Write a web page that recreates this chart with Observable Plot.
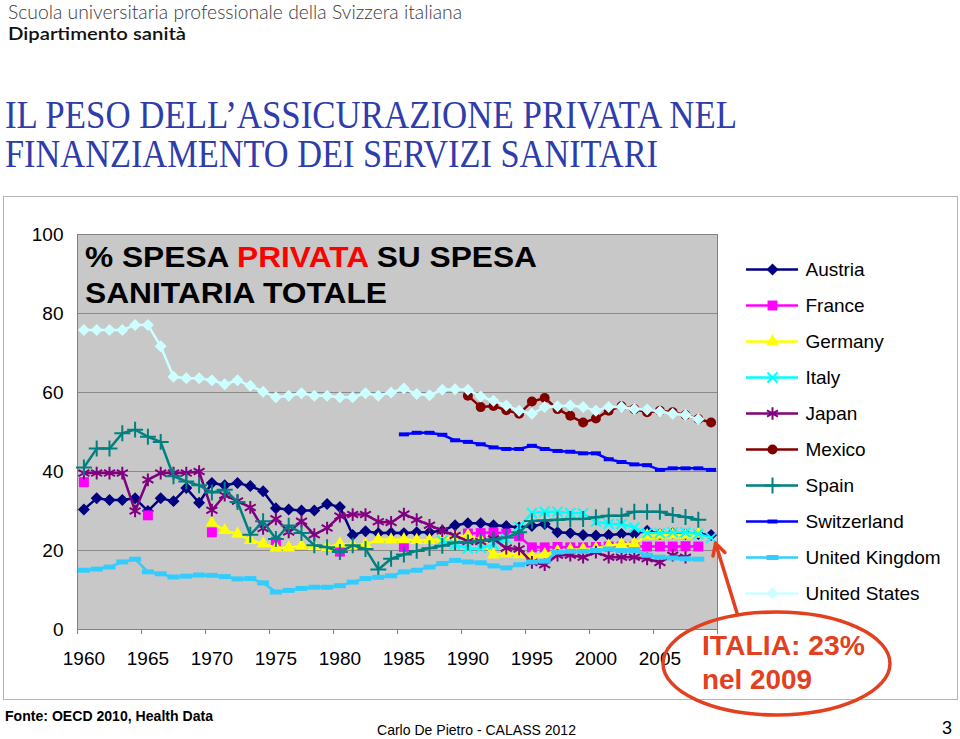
<!DOCTYPE html>
<html>
<head>
<meta charset="utf-8">
<script src="https://cdn.jsdelivr.net/npm/d3@7"></script>
<script src="https://cdn.jsdelivr.net/npm/@observablehq/plot@0.6"></script>
<style>
html, body { margin: 0; padding: 0; background: #fff; }
#page { position: relative; width: 960px; height: 739px; overflow: hidden; font-family: "Liberation Sans", Arial, sans-serif; }
#page > svg { position: absolute; }
</style>
</head>
<body>
<div id="page"></div>
<script>
// ---------- DATA ----------
const years = [1960,1961,1962,1963,1964,1965,1966,1967,1968,1969,
               1970,1971,1972,1973,1974,1975,1976,1977,1978,1979,
               1980,1981,1982,1983,1984,1985,1986,1987,1988,1989,
               1990,1991,1992,1993,1994,1995,1996,1997,1998,1999,
               2000,2001,2002,2003,2004,2005,2006,2007,2008,2009];
const xTickLabels = [1960,1965,1970,1975,1980,1985,1990,1995,2000,2005];
const yTickLabels = [0,20,40,60,80,100];
const countries = ["Austria","France","Germany","Italy","Japan","Mexico","Spain","Switzerland","United Kingdom","United States"];

const austria = [30.4,33.2,32.8,32.8,33.2,30.0,33.2,32.5,35.8,32.1,
                 37.1,36.5,37.1,36.3,35.0,30.7,30.4,30.1,30.1,31.8,
                 31.0,23.9,24.9,24.4,24.5,24.4,24.6,24.6,25.0,26.4,
                 26.9,26.9,26.4,26.2,25.8,26.2,26.7,24.6,24.4,23.9,
                 23.8,23.9,24.2,24.2,25.0,24.2,24.4,24.2,24.2,23.9];
const france = [37.3,null,null,null,null,28.9,null,null,null,null,
                24.6,null,null,null,null,22.2,null,null,null,null,
                19.7,null,null,null,null,20.9,null,null,null,null,
                24.3,24.4,24.6,24.3,23.6,20.8,20.8,20.9,20.8,20.8,
                20.9,21.0,21.0,21.0,21.0,21.0,21.0,21.1,21.0,null];
const germany = [null,null,null,null,null,null,null,null,null,null,
                 27.0,25.1,24.2,22.6,21.7,20.7,20.7,21.2,21.0,20.8,
                 21.7,21.3,21.5,22.8,22.7,22.8,22.6,22.6,22.9,23.5,
                 23.8,22.6,18.9,19.2,19.0,18.5,19.0,19.8,20.2,20.3,
                 20.5,21.2,21.6,21.7,23.8,23.9,24.0,23.9,24.2,null];
const italy = [null,null,null,null,null,null,null,null,null,null,
               null,null,null,null,null,null,null,null,null,null,
               null,null,null,null,null,null,null,null,22.5,21.5,
               20.5,20.6,21.5,23.0,26.0,29.5,29.8,29.8,29.5,29.4,
               27.3,26.7,26.7,25.8,24.4,24.4,24.6,24.6,24.2,23.2];
const japan = [39.6,39.6,39.6,39.6,30.0,37.9,39.6,39.6,39.6,40.0,
               30.2,34.0,32.5,30.9,25.6,28.0,24.7,27.4,24.0,25.7,
               28.7,29.1,29.1,27.3,27.1,29.2,27.8,26.4,25.0,23.8,
               22.3,22.3,22.9,20.6,20.4,17.0,16.4,18.8,18.8,18.3,
               19.6,18.3,18.3,18.3,17.9,17.0,18.8,18.3,null,null];
const mexico = [null,null,null,null,null,null,null,null,null,null,
                null,null,null,null,null,null,null,null,null,null,
                null,null,null,null,null,null,null,null,null,null,
                59.2,56.3,56.6,55.5,54.6,57.7,58.6,55.8,54.1,52.4,
                53.4,55.4,56.5,55.8,55.0,55.4,55.0,54.3,53.3,52.4];
const spain = [41.0,45.8,45.8,49.7,50.6,48.8,47.5,38.8,37.5,36.5,
               34.7,35.4,32.3,24.0,27.4,22.9,26.3,24.4,21.3,20.8,
               19.6,21.3,20.4,15.2,17.9,19.0,19.9,20.6,21.2,22.0,
               22.0,22.5,22.8,23.3,24.6,27.5,27.6,27.8,28.0,28.0,
               28.4,28.8,28.8,29.8,29.8,29.8,29.0,28.5,27.8,null];
const switzerland = [null,null,null,null,null,null,null,null,null,null,
                     null,null,null,null,null,null,null,null,null,null,
                     null,null,null,null,null,49.4,49.8,49.8,49.3,47.9,
                     47.5,46.9,46.1,45.7,45.7,46.5,45.7,45.2,45.0,44.6,
                     44.6,43.1,42.4,41.8,41.6,40.4,40.8,40.8,40.8,40.4];
const unitedKingdom = [15.0,15.3,15.8,17.1,17.8,14.6,14.1,13.3,13.5,13.8,
                       13.7,13.4,12.8,12.9,11.8,9.5,9.9,10.4,10.7,10.7,
                       11.1,12.0,12.9,13.2,13.6,14.6,15.0,15.8,16.7,17.5,
                       17.1,16.9,16.1,15.6,16.4,17.1,17.3,19.6,19.8,19.8,
                       20.0,20.4,20.0,20.0,18.8,18.3,18.1,17.9,17.8,null];
const unitedStates = [75.8,75.8,75.8,75.8,77.1,77.1,71.7,64.0,63.6,63.6,
                      63.1,62.1,63.1,61.7,60.2,58.8,59.2,59.8,59.2,59.2,
                      58.8,58.8,59.8,59.2,60.0,61.0,59.6,59.3,60.7,60.8,
                      60.7,59.0,57.9,56.7,55.4,54.6,56.3,56.5,56.7,56.3,
                      55.4,56.3,56.3,55.8,55.7,55.2,54.6,54.3,53.2,null];
const seriesValues = [austria, france, germany, italy, japan, mexico, spain, switzerland, unitedKingdom, unitedStates];
const highlightCountry = "Italy";
const highlightYear = 2009;

// ---------- STYLES ----------
const dash = (w, h) => ({ draw(ctx) { ctx.moveTo(-w/2,-h/2); ctx.lineTo(w/2,-h/2); ctx.lineTo(w/2,h/2); ctx.lineTo(-w/2,h/2); ctx.closePath(); } });
const styles = [
  {color:"#000080", symbol:"diamond2", r:5.4, filled:true},
  {color:"#ff00ff", symbol:"square",   r:5.6, filled:true},
  {color:"#ffff00", symbol:"triangle", r:4.8, filled:true},
  {color:"#00ffff", symbol:"times",    r:4.6, filled:false},
  {color:"#800080", symbol:"asterisk", r:6.0, filled:false},
  {color:"#800000", symbol:"circle",   r:5.0, filled:true},
  {color:"#008080", symbol:"plus",     r:5.2, filled:false},
  {color:"#0000ff", symbol:dash(10,4), r:3,   filled:true},
  {color:"#33ccff", symbol:dash(12,5), r:3,   filled:true},
  {color:"#ccffff", symbol:"diamond2", r:5.4, filled:true}
];
const FONT = "'Liberation Sans', Arial, sans-serif";

function dotOpts(st) {
  return st.filled
    ? {symbol: st.symbol, r: st.r, fill: st.color, stroke: "none"}
    : {symbol: st.symbol, r: st.r, fill: "none", stroke: st.color, strokeWidth: 2};
}

// ---------- MAIN CHART ----------
const page = document.getElementById("page");
const chartTop = 196;
const xDomain = [years[0] - 0.5, years[years.length - 1] + 0.5];
const tickMarks = d3.range(xDomain[0], xDomain[1] + 1, 5);

const marks = [
  Plot.frame({fill: "#c8c8c8", stroke: "none"}),
  Plot.gridY(yTickLabels.filter(v => v > 0 && v < 100), {stroke: "#8a8a8a", strokeOpacity: 1}),
  Plot.frame({stroke: "#808080", fill: "none"}),
  Plot.axisY(yTickLabels, {tickSize: 0, tickPadding: 14, fontSize: 19, tickFormat: d => String(d), label: null}),
  Plot.axisX(xTickLabels, {tickSize: 0, tickPadding: 22, fontSize: 19, tickFormat: d => String(d), label: null}),
  Plot.axisX(tickMarks, {tickSize: 5, tickFormat: () => "", stroke: "#808080", label: null})
];
countries.forEach((c, k) => {
  const rows = years.map((y, i) => ({year: y, value: seriesValues[k][i] == null ? NaN : seriesValues[k][i]}));
  const st = styles[k];
  marks.push(Plot.line(rows, {x: "year", y: "value", stroke: st.color, strokeWidth: 2.5, strokeLinejoin: "round"}));
  marks.push(Plot.dot(rows.filter(d => !isNaN(d.value)), {x: "year", y: "value", ...dotOpts(st)}));
});

const chart = Plot.plot({
  width: 960, height: 504,
  marginLeft: 77, marginRight: 243, marginTop: 38, marginBottom: 71,
  x: {type: "linear", domain: xDomain, axis: null, label: null},
  y: {type: "linear", domain: [0, 100], axis: null, label: null},
  style: {background: "transparent", fontFamily: FONT, overflow: "visible", color: "#000"},
  marks
});

// background layer (chart box)
const bg = d3.create("svg").attr("width", 960).attr("height", 739).style("left", "0px").style("top", "0px");
bg.append("rect").attr("x", 3.5).attr("y", 196.5).attr("width", 954).attr("height", 503)
  .attr("fill", "#fff").attr("stroke", "#b4b4b4").attr("stroke-width", 1);
page.appendChild(bg.node());

chart.style.left = "0px";
chart.style.top = chartTop + "px";
page.appendChild(chart);

// ---------- LEGEND ----------
const legendMarks = [];
countries.forEach((c, k) => {
  const st = styles[k];
  legendMarks.push(Plot.ruleY([c], {y: d => d, x1: 0, x2: 1, stroke: st.color, strokeWidth: 2.5}));
  legendMarks.push(Plot.dot([c], {y: d => d, x: 0.5, ...dotOpts(st)}));
});
legendMarks.push(Plot.text(countries, {y: d => d, x: 1, text: d => d, dx: 7, textAnchor: "start", fontSize: 19, fill: "#000"}));
const legend = Plot.plot({
  width: 220, height: 363,
  marginLeft: 6, marginRight: 162, marginTop: 0, marginBottom: 0,
  x: {type: "linear", domain: [0, 1], axis: null},
  y: {type: "point", domain: countries, padding: 0.5, axis: null},
  style: {background: "transparent", fontFamily: FONT, overflow: "visible"},
  marks: legendMarks
});
legend.style.left = "740px";
legend.style.top = "249px";
page.appendChild(legend);

// ---------- TEXT / ANNOTATION OVERLAY ----------
const ov = d3.create("svg").attr("width", 960).attr("height", 739).style("left", "0px").style("top", "0px").style("pointer-events", "none");
function txt(o) {
  const t = ov.append("text").attr("x", o.x).attr("y", o.y)
    .attr("font-family", o.family || FONT).attr("font-size", o.size)
    .attr("font-weight", o.weight || 400).attr("fill", o.fill || "#000");
  if (o.len) t.attr("textLength", o.len).attr("lengthAdjust", "spacingAndGlyphs");
  if (o.parts) o.parts.forEach(p => t.append("tspan").attr("fill", p.fill || null).text(p.text));
  else t.text(o.text);
  return t;
}
txt({x: 8, y: 19, text: "Scuola universitaria professionale della Svizzera italiana", size: 20, family: "Lato, 'Open Sans', sans-serif", weight: 300, fill: "#3a3a3a", len: 454});
txt({x: 8, y: 40, text: "Dipartimento sanità", size: 18, family: "Lato, 'Open Sans', sans-serif", weight: 600, fill: "#111", len: 178});
txt({x: 5, y: 128, text: "IL PESO DELL’ASSICURAZIONE PRIVATA NEL", size: 39, family: "'Liberation Serif', 'Times New Roman', serif", fill: "#2e3cac", len: 732});
txt({x: 5, y: 167, text: "FINANZIAMENTO DEI SERVIZI SANITARI", size: 39, family: "'Liberation Serif', 'Times New Roman', serif", fill: "#2e3cac", len: 653});
txt({x: 85, y: 267, size: 30, weight: 700, len: 452, parts: [{text: "% SPESA "}, {text: "PRIVATA", fill: "#ff0000"}, {text: " SU SPESA"}]});
txt({x: 85, y: 303, text: "SANITARIA TOTALE", size: 30, weight: 700, len: 302});
txt({x: 5, y: 721, text: "Fonte: OECD 2010, Health Data", size: 14, weight: 700, len: 208});
txt({x: 377, y: 735, text: "Carlo De Pietro - CALASS 2012", size: 15, len: 199});
txt({x: 942, y: 734, text: "3", size: 18});

// highlight: ellipse + arrow to the Italy 2009 point
const red = "#e2401e";
const xs = chart.scale("x"), ys = chart.scale("y");
const hk = countries.indexOf(highlightCountry);
const hv = seriesValues[hk][years.indexOf(highlightYear)];
const tipX = xs.apply(highlightYear) + 5, tipY = ys.apply(hv) + chartTop + 6;
const startX = 737, startY = 613;
ov.append("ellipse").attr("cx", 776.5).attr("cy", 663.5).attr("rx", 113.5).attr("ry", 51.5)
  .attr("fill", "none").attr("stroke", red).attr("stroke-width", 3.5);
ov.append("line").attr("x1", startX).attr("y1", startY).attr("x2", tipX).attr("y2", tipY)
  .attr("stroke", red).attr("stroke-width", 3.5).attr("stroke-linecap", "round");
const ang = Math.atan2(tipY - startY, tipX - startX);
[0.5, -0.5].forEach(a => {
  ov.append("line").attr("x1", tipX).attr("y1", tipY)
    .attr("x2", tipX - 13 * Math.cos(ang + a)).attr("y2", tipY - 13 * Math.sin(ang + a))
    .attr("stroke", red).attr("stroke-width", 3.5).attr("stroke-linecap", "round");
});
txt({x: 702, y: 655, text: "ITALIA: 23%", size: 28, weight: 700, fill: red, len: 163});
txt({x: 702, y: 688.5, text: "nel 2009", size: 28, weight: 700, fill: red, len: 110});
page.appendChild(ov.node());
</script>
</body>
</html>
